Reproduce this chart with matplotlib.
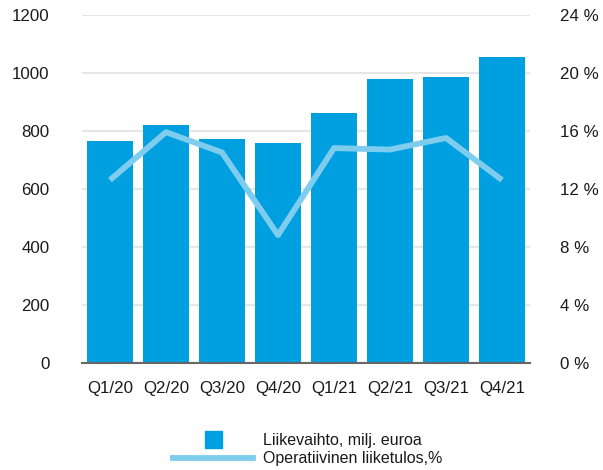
import matplotlib
matplotlib.use("Agg")
import matplotlib.pyplot as plt
from matplotlib.patches import Rectangle
from matplotlib.lines import Line2D

categories = ["Q1/20", "Q2/20", "Q3/20", "Q4/20", "Q1/21", "Q2/21", "Q3/21", "Q4/21"]
revenue = [765, 820, 771, 758, 861, 978, 986, 1055]
margin = [12.6, 15.9, 14.5, 8.8, 14.8, 14.7, 15.5, 12.6]
left_ticks = [0, 200, 400, 600, 800, 1000, 1200]
right_ticks = [0, 4, 8, 12, 16, 20, 24]
legend_labels = ["Liikevaihto, milj. euroa", "Operatiivinen liiketulos,%"]

plt.rcParams['font.family'] = ['Liberation Sans', 'DejaVu Sans']

W, H = 603, 470
FS = 12.2
LFS = 11.5
fig = plt.figure(figsize=(W / 100, H / 100), dpi=100)
ax = fig.add_axes([82 / W, 1 - 362.7 / H, (530 - 82) / W, (362.7 - 14.7) / H])

bar_color = "#009fdf"
line_color = "#7fcdee"
text_color = "#1a1a1a"

x = list(range(len(categories)))
ax.set_axisbelow(True)
ax.yaxis.grid(True, color="#e6e6e6", linewidth=1.5)
ax.bar(x, revenue, width=0.82, color=bar_color, zorder=2)
ax.set_xlim(-0.5, 7.5)
ax.set_ylim(0, 1200)
ax.set_yticks(left_ticks)
ax.set_xticks(x)
ax.set_xticklabels(categories)
for s in ["top", "right", "left"]:
    ax.spines[s].set_visible(False)
ax.spines["bottom"].set_color("#666666")
ax.spines["bottom"].set_linewidth(1.5)
ax.spines["bottom"].set_zorder(3)
ax.tick_params(axis="both", length=0, labelsize=FS, colors=text_color)
ax.tick_params(axis="y", pad=23.5)
ax.tick_params(axis="x", pad=13)

ax2 = ax.twinx()
ax2.plot(x, margin, color=line_color, linewidth=4.2, solid_capstyle="butt", zorder=4)
ax2.set_ylim(0, 24)
ax2.set_yticks(right_ticks)
ax2.set_yticklabels([f"{t} %" for t in right_ticks])
for s in ["top", "right", "left", "bottom"]:
    ax2.spines[s].set_visible(False)
ax2.tick_params(axis="y", length=0, labelsize=FS, colors=text_color, pad=21.5)

# legend
fig.patches.append(Rectangle((205 / W, 1 - 448 / H), 17 / W, 17 / H,
                             transform=fig.transFigure, color=bar_color))
fig.lines.append(Line2D([173 / W, 253 / W], [1 - 458 / H, 1 - 458 / H],
                        transform=fig.transFigure, color=line_color, linewidth=4.2))
fig.text(263 / W, 1 - 440 / H, legend_labels[0], fontsize=LFS, va="center", color=text_color)
fig.text(263 / W, 1 - 459 / H, legend_labels[1], fontsize=LFS, va="center", color=text_color)

fig.savefig("out.png", dpi=100)
